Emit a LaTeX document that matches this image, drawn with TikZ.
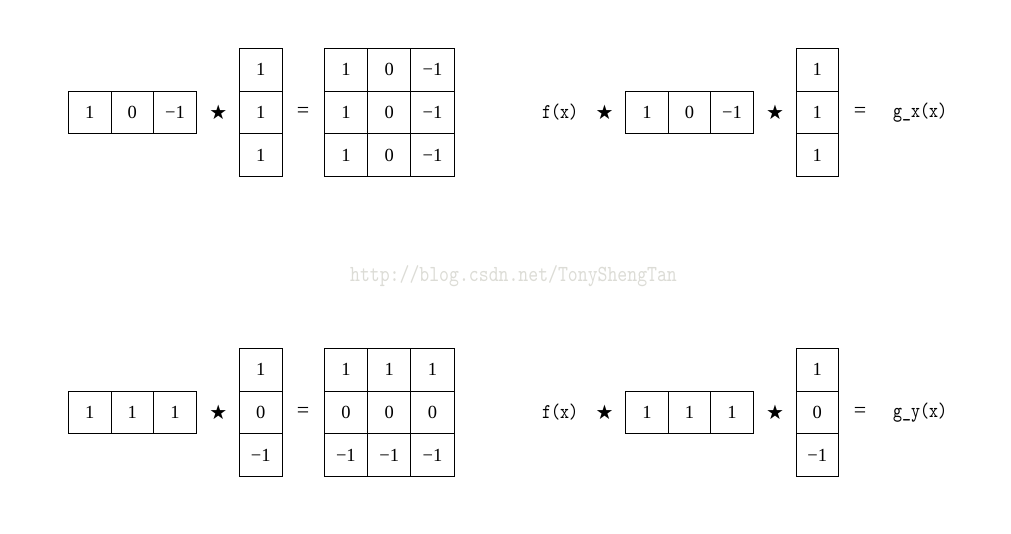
\documentclass[tikz,border=0pt]{standalone}
\usepackage{fontspec}
\setmainfont{Liberation Serif}
\newfontfamily\starfont{DejaVu Sans}
\newfontfamily\funcfont{lmmono10-regular.otf}[FakeStretch=0.816]
\newfontfamily\wmfont{lmmono10-regular.otf}[FakeStretch=0.82]
\definecolor{wmgray}{RGB}{220,220,214}
\tikzset{
  cell/.style={draw=black, line width=0.9pt, minimum width=42.7pt, minimum height=42.7pt, inner sep=0pt, font=\fontsize{18.5}{20}\selectfont},
  mcell/.style={cell, minimum width=43.3pt},
  conv/.style={inner sep=0pt, font=\starfont\fontsize{20}{22}\selectfont},
  eqsign/.style={inner sep=0pt, font=\fontsize{22}{24}\selectfont},
  func/.style={inner sep=0pt, font=\funcfont\fontsize{21}{24}\selectfont},
  wmark/.style={inner sep=0pt, text=wmgray, font=\wmfont\fontsize{23}{25}\selectfont}
}
\begin{document}
\begin{tikzpicture}[x=1pt,y=-1pt]
\useasboundingbox (0,0) rectangle (1011,533);
% ---------- top left ----------
\foreach \v [count=\i] in {1,0,−1}
  \node[cell] (tlr\i) at ({89.65+(\i-1)*42.67},112.5) {\v};
\node[conv] (tls) at (218.3,112.5) {★};
\foreach \v [count=\i] in {1,1,1}
  \node[cell] (tlc\i) at (260.7,{69.8+(\i-1)*42.67}) {\v};
\node[eqsign] (tle) at (303,112.5) {=};
\foreach \r in {1,2,3}
  \foreach \v [count=\i] in {1,0,−1}
    \node[mcell] (tlm\r\i) at ({345.9+(\i-1)*43.3},{69.8+(\r-1)*42.67}) {\v};
% ---------- top right ----------
\node[func] (trf) at (560,112.5) {f(x)};
\node[conv] (trs1) at (604.5,112.5) {★};
\foreach \v [count=\i] in {1,0,−1}
  \node[cell] (trr\i) at ({647+(\i-1)*42.5},112.5) {\v};
\node[conv] (trs2) at (775,112.5) {★};
\foreach \v [count=\i] in {1,1,1}
  \node[cell] (trc\i) at (817.3,{69.8+(\i-1)*42.67}) {\v};
\node[eqsign] (tre) at (860,112.5) {=};
\node[func] (trg) at (920,112.5) {g\_x(x)};
% ---------- watermark ----------
\node[wmark] (wm) at (513.5,276) {http://blog.csdn.net/TonyShengTan};
% ---------- bottom left ----------
\foreach \v [count=\i] in {1,1,1}
  \node[cell] (blr\i) at ({89.65+(\i-1)*42.67},412.5) {\v};
\node[conv] (bls) at (218.3,412.5) {★};
\foreach \v [count=\i] in {1,0,−1}
  \node[cell] (blc\i) at (260.7,{369.8+(\i-1)*42.67}) {\v};
\node[eqsign] (ble) at (303,412.5) {=};
\foreach \v [count=\i] in {1,1,1}
  \node[mcell] (blm1\i) at ({345.9+(\i-1)*43.3},369.8) {\v};
\foreach \v [count=\i] in {0,0,0}
  \node[mcell] (blm2\i) at ({345.9+(\i-1)*43.3},412.47) {\v};
\foreach \v [count=\i] in {−1,−1,−1}
  \node[mcell] (blm3\i) at ({345.9+(\i-1)*43.3},455.14) {\v};
% ---------- bottom right ----------
\node[func] (brf) at (560,412.5) {f(x)};
\node[conv] (brs1) at (604.5,412.5) {★};
\foreach \v [count=\i] in {1,1,1}
  \node[cell] (brr\i) at ({647+(\i-1)*42.5},412.5) {\v};
\node[conv] (brs2) at (775,412.5) {★};
\foreach \v [count=\i] in {1,0,−1}
  \node[cell] (brc\i) at (817.3,{369.8+(\i-1)*42.67}) {\v};
\node[eqsign] (bre) at (860,412.5) {=};
\node[func] (brg) at (920,412.5) {g\_y(x)};
\end{tikzpicture}
\end{document}
